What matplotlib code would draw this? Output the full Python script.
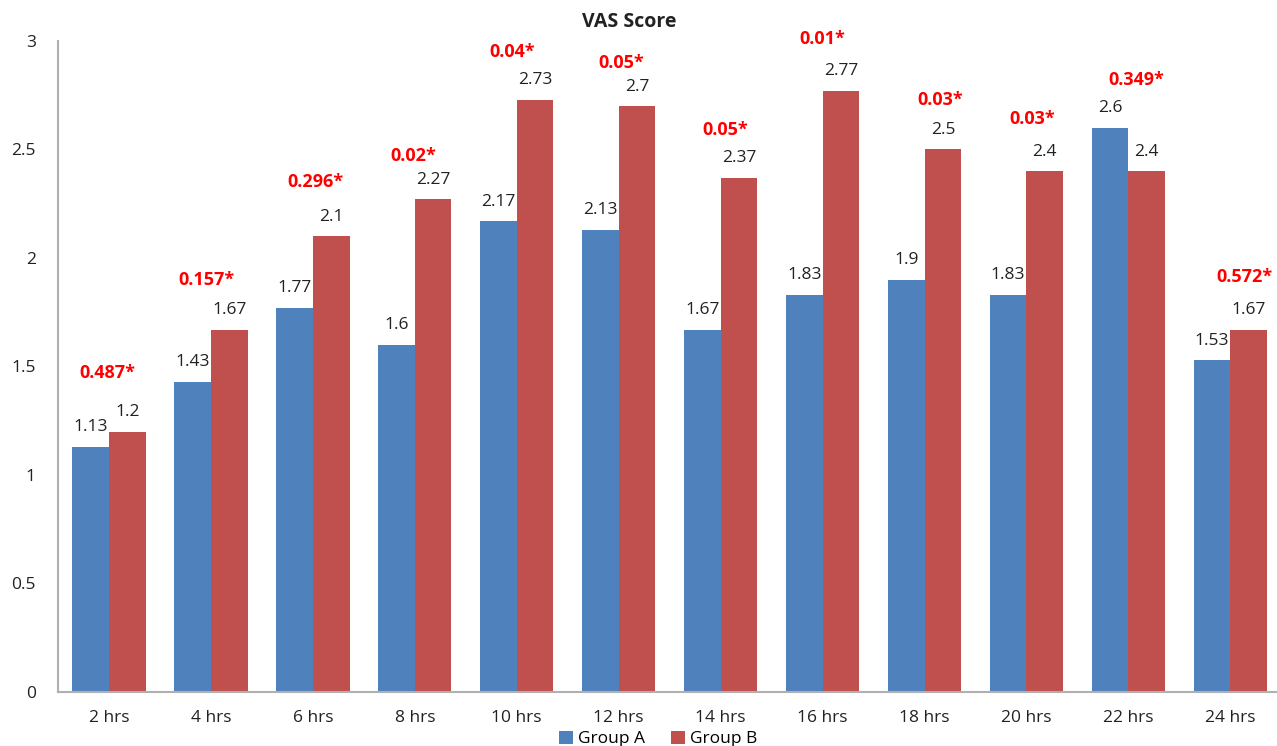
import numpy as np
import matplotlib.pyplot as plt

categories = ['2 hrs', '4 hrs', '6 hrs', '8 hrs', '10 hrs', '12 hrs',
              '14 hrs', '16 hrs', '18 hrs', '20 hrs', '22 hrs', '24 hrs']
group_a = [1.13, 1.43, 1.77, 1.6, 2.17, 2.13, 1.67, 1.83, 1.9, 1.83, 2.6, 1.53]
group_b = [1.2, 1.67, 2.1, 2.27, 2.73, 2.7, 2.37, 2.77, 2.5, 2.4, 2.4, 1.67]
p_labels = ['0.487*', '0.157*', '0.296*', '0.02*', '0.04*', '0.05*',
            '0.05*', '0.01*', '0.03*', '0.03*', '0.349*', '0.572*']
# where the p-value labels sit (height in data units, shift from group centre)
p_y = [1.47, 1.90, 2.35, 2.47, 2.95, 2.90, 2.59, 3.01, 2.73, 2.64, 2.82, 1.91]
p_dx = [-0.02, -0.04, 0.03, -0.02, -0.05, 0.02, 0.04, 0.0, 0.15, 0.06, 0.08, 0.14]

plt.rcParams['font.family'] = ['Open Sans', 'DejaVu Sans']

fig = plt.figure(figsize=(12.77, 7.46), dpi=100)
ax = fig.add_axes([0.0454, 0.0724, 0.958, 0.8727])

x = np.arange(len(categories))
w = 0.36
bars_a = ax.bar(x - w / 2, group_a, w, color='#4F81BD', label='Group A')
bars_b = ax.bar(x + w / 2, group_b, w, color='#C0504D', label='Group B')

for bars, vals in [(bars_a, group_a), (bars_b, group_b)]:
    for b, v in zip(bars, vals):
        ax.annotate('%g' % v, (b.get_x() + b.get_width() / 2, v),
                    xytext=(0, 14), textcoords='offset points',
                    ha='center', va='center', fontsize=12.5, color='#222222')

for xi, dx, lab, yy in zip(x, p_dx, p_labels, p_y):
    ax.text(xi + dx, yy, lab, ha='center', va='center', fontsize=13,
            fontweight='bold', color='#FF0000', clip_on=False)

ax.set_xlim(-0.5, len(categories) - 0.5)
ax.set_ylim(0, 3)
ax.set_yticks([0, 0.5, 1, 1.5, 2, 2.5, 3])
ax.set_yticklabels(['0', '0.5', '1', '1.5', '2', '2.5', '3'])
ax.set_xticks(x)
ax.set_xticklabels(categories)
ax.tick_params(axis='both', length=0, labelsize=12.5, colors='#222222')
ax.tick_params(axis='y', pad=16)
ax.tick_params(axis='x', pad=13)

for s in ['top', 'right']:
    ax.spines[s].set_visible(False)
for s in ['left', 'bottom']:
    ax.spines[s].set_color('#B0B0B0')
    ax.spines[s].set_linewidth(1.5)

fig.text(629 / 1277, 1 - 22 / 746, 'VAS Score', ha='center', va='center',
         fontsize=14, fontweight='bold', color='#222222')

fig.legend(loc='center', bbox_to_anchor=(658 / 1277, 1 - 739 / 746), ncol=2,
           frameon=False, fontsize=12.5, handlelength=0.8, handleheight=0.8,
           columnspacing=1.5, handletextpad=0.3)

fig.savefig('out.png', dpi=100)
